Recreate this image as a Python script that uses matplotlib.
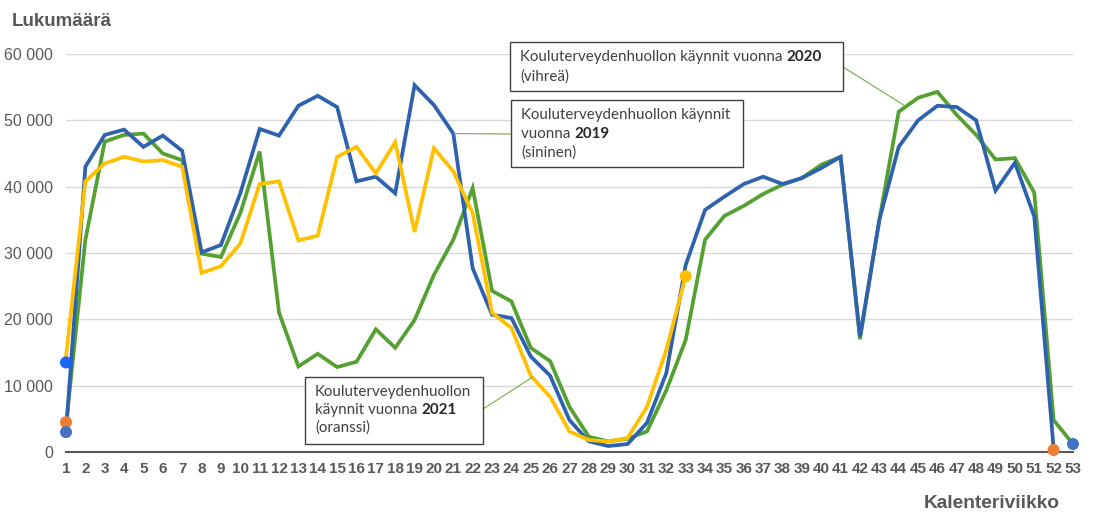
import matplotlib
matplotlib.use("Agg")
import matplotlib.pyplot as plt
from matplotlib.patches import Rectangle
from matplotlib.text import Annotation

W, H = 1095, 512

weeks = list(range(1, 54))

# 2019 (blue), weeks 1-52
visits_2019 = [3000, 43000, 47800, 48600, 46000, 47700, 45400, 30100, 31200, 39000,
               48700, 47700, 52200, 53700, 52000, 40800, 41500, 39000, 55300, 52300,
               48000, 27700, 20700, 20200, 14400, 11500, 4800, 1600, 900, 1200,
               4400, 11900, 28200, 36500, 38500, 40400, 41500, 40400, 41300, 42800,
               44500, 17400, 35000, 46000, 50000, 52200, 52000, 50000, 39400, 43600,
               35500, 500]

# 2020 (green), weeks 1-53
visits_2020 = [4000, 32000, 46800, 47800, 48000, 45000, 44000, 29900, 29400, 36000,
               45300, 21000, 12900, 14800, 12800, 13600, 18500, 15700, 19900, 26700,
               32000, 39800, 24300, 22700, 15700, 13700, 6800, 2300, 1600, 2000,
               3100, 9300, 16900, 32000, 35600, 37100, 38900, 40300, 41300, 43300,
               44500, 17000, 35000, 51300, 53400, 54300, 50800, 47800, 44100, 44300,
               39100, 4800, 1200]

# 2021 (yellow), weeks 1-33
visits_2021 = [14300, 40800, 43500, 44500, 43800, 44000, 43000, 27000, 28000, 31400,
               40400, 40800, 31900, 32600, 44500, 46000, 42000, 46700, 33200, 45800,
               42300, 36000, 21000, 18700, 11500, 8300, 3100, 1800, 1600, 2100,
               6800, 15400, 26500]

# single markers
dot_weeks = [1, 1, 1, 52, 53, 33]
dot_values = [13500, 4500, 3000, 300, 1200, 26500]
dot_colors = ["#1a66f5", "#ed7d31", "#4472c4", "#ed7d31", "#4472c4", "#ffc000"]

yticks = [0, 10000, 20000, 30000, 40000, 50000, 60000]
ytick_labels = ["0", "10 000", "20 000", "30 000", "40 000", "50 000", "60 000"]

BLUE = "#2f62ae"
GREEN = "#54a031"
YELLOW = "#ffc000"
GREY = "#595959"
LEADER = "#70ad47"


def px(x, y):
    return x / W, 1 - y / H


fig = plt.figure(figsize=(W / 100, H / 100), dpi=100)
ax = fig.add_axes([66 / W, 1 - 452 / H, (1073 - 66) / W, (452 - 54) / H])

ax.plot(weeks[:len(visits_2020)], visits_2020, color=GREEN, lw=2.7,
        solid_joinstyle="miter", zorder=3, clip_on=False)
ax.plot(weeks[:len(visits_2019)], visits_2019, color=BLUE, lw=2.7,
        solid_joinstyle="miter", zorder=4, clip_on=False)
ax.plot(weeks[:len(visits_2021)], visits_2021, color=YELLOW, lw=2.7,
        solid_joinstyle="miter", zorder=5, clip_on=False)
ax.scatter(dot_weeks, dot_values, s=75, c=dot_colors, zorder=6, clip_on=False,
           linewidths=0)

ax.set_xlim(1, 53)
ax.set_ylim(0, 60000)
ax.set_xticks(weeks)
ax.set_xticklabels([str(w) for w in weeks], fontsize=11, fontweight="bold",
                   color=GREY, family="Liberation Sans")
ax.set_yticks(yticks)
ax.set_yticklabels(ytick_labels, fontsize=11.5, color=GREY,
                   family="Liberation Sans")
ax.tick_params(axis="both", length=0)
ax.tick_params(axis="x", pad=7)
ax.tick_params(axis="y", pad=9.5)
ax.grid(axis="y", color="#d9d9d9", lw=1)
ax.set_axisbelow(True)
for s in ["top", "right", "left"]:
    ax.spines[s].set_visible(False)
ax.spines["bottom"].set_color("#595959")
ax.spines["bottom"].set_linewidth(1.5)
ax.spines["bottom"].set_zorder(2)

fig.text(*px(12, 21), "Lukumäärä", fontsize=13.5, fontweight="bold",
         color=GREY, va="center", ha="left", family="Liberation Sans")
fig.text(*px(1060, 503), "Kalenteriviikko", fontsize=13.8, fontweight="bold",
         color=GREY, va="center", ha="right", family="Liberation Sans")

# annotation boxes: (left, top, right, bottom), lines of (normal, bold)
boxes = [
    ((510, 42, 843, 91), [("Kouluterveydenhuollon käynnit vuonna ", "2020"),
                          ("(vihreä)", "")], (57, 77)),
    ((511, 100, 743, 167), [("Kouluterveydenhuollon käynnit", ""),
                            ("vuonna ", "2019"), ("(sininen)", "")],
     (115, 134, 153)),
    ((305, 377, 483, 444), [("Kouluterveydenhuollon", ""),
                            ("käynnit vuonna ", "2021"), ("(oranssi)", "")],
     (392, 410, 428)),
]
TFONT = "Lato"
for (l, t, r, b), lines, ys in boxes:
    fig.patches.append(Rectangle(px(l, b), (r - l) / W, (b - t) / H,
                                 transform=fig.transFigure, facecolor="white",
                                 edgecolor="#404040", lw=1, zorder=10))
    for (norm, bold), yy in zip(lines, ys):
        t1 = fig.text(*px(l + 10, yy), norm, fontsize=10.9, color="#404040",
                      va="center", ha="left", family=TFONT, zorder=11)
        if bold:
            fig.add_artist(Annotation(
                bold, xy=(1, 0), xycoords=t1, va="bottom", ha="left",
                fontsize=10.9, fontweight="bold", color="#262626",
                family=TFONT, zorder=11))

# leader lines (box edge in figure pixels -> data point)
leaders = [((843, 67), (44.26, 52300)),
           ((511, 134), (21, 48000)),
           ((483, 409), (25.1, 11300))]
for (bx, by), (wx, wy) in leaders:
    ax.annotate("", xy=(wx, wy), xycoords="data",
                xytext=(bx, H - by), textcoords="figure pixels",
                arrowprops=dict(arrowstyle="-", color=LEADER, lw=0.8,
                                shrinkA=0, shrinkB=0), zorder=9)

fig.savefig("out.png", dpi=100)
